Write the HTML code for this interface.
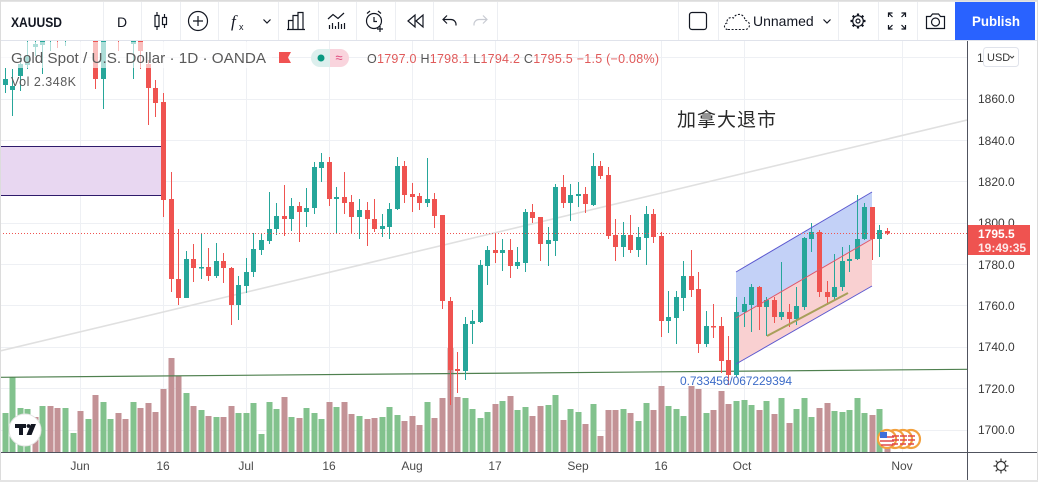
<!DOCTYPE html>
<html><head><meta charset="utf-8"><style>
html,body{margin:0;padding:0;background:#fff;width:1038px;height:482px;overflow:hidden}
svg{display:block}
</style></head><body>
<svg width="1038" height="482" viewBox="0 0 1038 482" xmlns="http://www.w3.org/2000/svg" font-family="'Liberation Sans', sans-serif">
<defs><clipPath id="ca"><rect x="0" y="41" width="967" height="411"/></clipPath></defs>
<rect width="1038" height="482" fill="#fff"/>
<g clip-path="url(#ca)">
<g stroke="#eef0f4" stroke-width="1">
<path d="M0 57.5H967M0 99.5H967M0 140.5H967M0 181.5H967M0 223.5H967M0 264.5H967M0 305.5H967M0 347.5H967M0 388.5H967M0 430.5H967"/>
<path d="M80.5 41V452M163.5 41V452M246.5 41V452M329.5 41V452M412.5 41V452M495.5 41V452M578.5 41V452M661.5 41V452M744.5 41V452M902.5 41V452"/>
</g>
<rect x="0" y="146" width="161" height="50" fill="#e8d7f1"/>
<path d="M0 146.5H161M0 195.5H161" stroke="#2e1b6b" stroke-width="1"/>
<polygon points="736,272 872,192 872,239 736,318" fill="#c3d1f7"/>
<polygon points="736,318 872,239 872,286 736,364" fill="#f9d0d1"/>
<g fill="#82c28d">
<rect x="2.5" y="413" width="6" height="39"/><rect x="9.5" y="377" width="6" height="75"/><rect x="17.5" y="408" width="6" height="44"/><rect x="24.5" y="409" width="6" height="43"/><rect x="39.5" y="406" width="6" height="46"/><rect x="62.5" y="408" width="6" height="44"/><rect x="70.5" y="433" width="6" height="19"/><rect x="85.5" y="419" width="6" height="33"/><rect x="100.5" y="402" width="6" height="50"/><rect x="107.5" y="419" width="6" height="33"/><rect x="130.5" y="402" width="6" height="50"/><rect x="183.5" y="393" width="6" height="59"/><rect x="198.5" y="410" width="6" height="42"/><rect x="213.5" y="417" width="6" height="35"/><rect x="235.5" y="413" width="6" height="39"/><rect x="243.5" y="413" width="6" height="39"/><rect x="250.5" y="403" width="6" height="49"/><rect x="258.5" y="434" width="6" height="18"/><rect x="266.5" y="402" width="6" height="50"/><rect x="273.5" y="409" width="6" height="43"/><rect x="288.5" y="417" width="6" height="35"/><rect x="303.5" y="408" width="6" height="44"/><rect x="311.5" y="413" width="6" height="39"/><rect x="318.5" y="419" width="6" height="33"/><rect x="333.5" y="407" width="6" height="45"/><rect x="356.5" y="416" width="6" height="36"/><rect x="379.5" y="417" width="6" height="35"/><rect x="386.5" y="407" width="6" height="45"/><rect x="394.5" y="415" width="6" height="37"/><rect x="424.5" y="402" width="6" height="50"/><rect x="462.5" y="398" width="6" height="54"/><rect x="469.5" y="409" width="6" height="43"/><rect x="477.5" y="418" width="6" height="34"/><rect x="484.5" y="412" width="6" height="40"/><rect x="499.5" y="401" width="6" height="51"/><rect x="514.5" y="410" width="6" height="42"/><rect x="522.5" y="407" width="6" height="45"/><rect x="545.5" y="405" width="6" height="47"/><rect x="552.5" y="395" width="6" height="57"/><rect x="567.5" y="409" width="6" height="43"/><rect x="575.5" y="412" width="6" height="40"/><rect x="590.5" y="404" width="6" height="48"/><rect x="620.5" y="409" width="6" height="43"/><rect x="635.5" y="421" width="6" height="31"/><rect x="643.5" y="403" width="6" height="49"/><rect x="665.5" y="406" width="6" height="46"/><rect x="673.5" y="409" width="6" height="43"/><rect x="680.5" y="416" width="6" height="36"/><rect x="703.5" y="413" width="6" height="39"/><rect x="733.5" y="401" width="6" height="51"/><rect x="741.5" y="400" width="6" height="52"/><rect x="748.5" y="405" width="6" height="47"/><rect x="763.5" y="401" width="6" height="51"/><rect x="778.5" y="398" width="6" height="54"/><rect x="793.5" y="409" width="6" height="43"/><rect x="801.5" y="398" width="6" height="54"/><rect x="808.5" y="417" width="6" height="35"/><rect x="831.5" y="411" width="6" height="41"/><rect x="839.5" y="412" width="6" height="40"/><rect x="846.5" y="410" width="6" height="42"/><rect x="854.5" y="398" width="6" height="54"/><rect x="861.5" y="413" width="6" height="39"/><rect x="876.5" y="409" width="6" height="43"/>
</g>
<g fill="#c39296">
<rect x="32.5" y="417" width="6" height="35"/><rect x="47.5" y="406" width="6" height="46"/><rect x="54.5" y="408" width="6" height="44"/><rect x="77.5" y="411" width="6" height="41"/><rect x="92.5" y="395" width="6" height="57"/><rect x="115.5" y="413" width="6" height="39"/><rect x="122.5" y="419" width="6" height="33"/><rect x="137.5" y="408" width="6" height="44"/><rect x="145.5" y="403" width="6" height="49"/><rect x="152.5" y="412" width="6" height="40"/><rect x="160.5" y="389" width="6" height="63"/><rect x="168.5" y="358" width="6" height="94"/><rect x="175.5" y="376" width="6" height="76"/><rect x="190.5" y="406" width="6" height="46"/><rect x="205.5" y="416" width="6" height="36"/><rect x="220.5" y="417" width="6" height="35"/><rect x="228.5" y="406" width="6" height="46"/><rect x="281.5" y="397" width="6" height="55"/><rect x="296.5" y="418" width="6" height="34"/><rect x="326.5" y="402" width="6" height="50"/><rect x="341.5" y="402" width="6" height="50"/><rect x="348.5" y="414" width="6" height="38"/><rect x="364.5" y="419" width="6" height="33"/><rect x="371.5" y="418" width="6" height="34"/><rect x="401.5" y="421" width="6" height="31"/><rect x="409.5" y="416" width="6" height="36"/><rect x="416.5" y="425" width="6" height="27"/><rect x="431.5" y="418" width="6" height="34"/><rect x="439.5" y="398" width="6" height="54"/><rect x="447.5" y="348" width="6" height="104"/><rect x="454.5" y="397" width="6" height="55"/><rect x="492.5" y="404" width="6" height="48"/><rect x="507.5" y="396" width="6" height="56"/><rect x="529.5" y="416" width="6" height="36"/><rect x="537.5" y="406" width="6" height="46"/><rect x="560.5" y="420" width="6" height="32"/><rect x="582.5" y="424" width="6" height="28"/><rect x="597.5" y="436" width="6" height="16"/><rect x="605.5" y="410" width="6" height="42"/><rect x="612.5" y="410" width="6" height="42"/><rect x="627.5" y="413" width="6" height="39"/><rect x="650.5" y="410" width="6" height="42"/><rect x="658.5" y="386" width="6" height="66"/><rect x="688.5" y="386" width="6" height="66"/><rect x="695.5" y="389" width="6" height="63"/><rect x="710.5" y="410" width="6" height="42"/><rect x="718.5" y="391" width="6" height="61"/><rect x="725.5" y="404" width="6" height="48"/><rect x="756.5" y="410" width="6" height="42"/><rect x="771.5" y="414" width="6" height="38"/><rect x="786.5" y="423" width="6" height="29"/><rect x="816.5" y="408" width="6" height="44"/><rect x="824.5" y="403" width="6" height="49"/><rect x="869.5" y="415" width="6" height="37"/><rect x="884.5" y="430" width="6" height="22"/>
</g>
<line x1="0" y1="351" x2="967" y2="120" stroke="#e0e0e0" stroke-width="1.6"/>
<line x1="0" y1="377.3" x2="967" y2="369.3" stroke="#4f804f" stroke-width="1.2"/>
<g fill="#26a69a">
<rect x="5" y="68" width="1" height="25"/><rect x="3" y="79" width="5" height="6"/>
<rect x="12" y="69" width="1" height="47"/><rect x="10" y="86" width="5" height="4"/>
<rect x="20" y="56" width="1" height="35"/><rect x="18" y="64" width="5" height="12"/>
<rect x="27" y="41" width="1" height="28"/><rect x="25" y="56" width="5" height="9"/>
<rect x="35" y="41" width="1" height="15"/><rect x="33" y="44" width="5" height="3"/>
<rect x="42" y="36" width="1" height="38"/><rect x="40" y="36" width="5" height="9"/>
<rect x="50" y="36" width="1" height="15"/><rect x="65" y="36" width="1" height="10"/>
<rect x="103" y="36" width="1" height="73"/><rect x="101" y="36" width="5" height="43"/>
<rect x="133" y="36" width="1" height="43"/><rect x="131" y="36" width="5" height="8"/>
<rect x="186" y="251" width="1" height="47"/><rect x="184" y="259" width="5" height="39"/>
<rect x="201" y="233" width="1" height="46"/><rect x="199" y="267" width="5" height="1.5"/>
<rect x="216" y="243" width="1" height="35"/><rect x="214" y="261" width="5" height="15"/>
<rect x="238" y="276" width="1" height="44"/><rect x="236" y="285" width="5" height="20"/>
<rect x="246" y="258" width="1" height="35"/><rect x="244" y="272" width="5" height="14"/>
<rect x="253" y="233" width="1" height="44"/><rect x="251" y="249" width="5" height="23"/>
<rect x="261" y="233" width="1" height="22"/><rect x="259" y="240" width="5" height="10"/>
<rect x="269" y="192" width="1" height="52"/><rect x="267" y="229" width="5" height="12"/>
<rect x="276" y="203" width="1" height="32"/><rect x="274" y="216" width="5" height="13"/>
<rect x="291" y="198" width="1" height="33"/><rect x="289" y="206" width="5" height="13"/>
<rect x="306" y="188" width="1" height="39"/><rect x="304" y="208" width="5" height="4"/>
<rect x="314" y="162" width="1" height="52"/><rect x="312" y="167" width="5" height="41"/>
<rect x="321" y="153" width="1" height="29"/><rect x="319" y="162" width="5" height="6"/>
<rect x="336" y="187" width="1" height="47"/><rect x="334" y="197" width="5" height="2"/>
<rect x="359" y="199" width="1" height="40"/><rect x="357" y="210" width="5" height="7"/>
<rect x="382" y="214" width="1" height="23"/><rect x="380" y="226" width="5" height="3"/>
<rect x="389" y="203" width="1" height="36"/><rect x="387" y="209" width="5" height="18"/>
<rect x="397" y="157" width="1" height="53"/><rect x="395" y="166" width="5" height="43"/>
<rect x="427" y="158" width="1" height="49"/><rect x="425" y="199" width="5" height="4"/>
<rect x="465" y="317" width="1" height="63"/><rect x="463" y="324" width="5" height="47"/>
<rect x="472" y="310" width="1" height="34"/><rect x="470" y="321" width="5" height="3"/>
<rect x="480" y="260" width="1" height="63"/><rect x="478" y="265" width="5" height="57"/>
<rect x="487" y="246" width="1" height="39"/><rect x="485" y="250" width="5" height="16"/>
<rect x="502" y="239" width="1" height="32"/><rect x="500" y="250" width="5" height="3"/>
<rect x="517" y="247" width="1" height="22"/><rect x="515" y="262" width="5" height="4"/>
<rect x="525" y="209" width="1" height="63"/><rect x="523" y="212" width="5" height="51"/>
<rect x="548" y="227" width="1" height="39"/><rect x="546" y="240" width="5" height="4"/>
<rect x="555" y="184" width="1" height="72"/><rect x="553" y="187" width="5" height="54"/>
<rect x="570" y="184" width="1" height="37"/><rect x="568" y="195" width="5" height="8"/>
<rect x="578" y="182" width="1" height="25"/><rect x="576" y="194" width="5" height="2"/>
<rect x="593" y="153" width="1" height="53"/><rect x="591" y="166" width="5" height="39"/>
<rect x="623" y="222" width="1" height="35"/><rect x="621" y="235" width="5" height="12"/>
<rect x="638" y="227" width="1" height="30"/><rect x="636" y="237" width="5" height="13"/>
<rect x="646" y="206" width="1" height="59"/><rect x="644" y="214" width="5" height="24"/>
<rect x="668" y="291" width="1" height="42"/><rect x="666" y="317" width="5" height="4"/>
<rect x="676" y="291" width="1" height="53"/><rect x="674" y="297" width="5" height="21"/>
<rect x="683" y="261" width="1" height="50"/><rect x="681" y="276" width="5" height="22"/>
<rect x="706" y="311" width="1" height="36"/><rect x="704" y="326" width="5" height="18"/>
<rect x="736" y="297" width="1" height="80"/><rect x="734" y="312" width="5" height="63"/>
<rect x="744" y="297" width="1" height="30"/><rect x="742" y="304" width="5" height="8"/>
<rect x="751" y="284" width="1" height="48"/><rect x="749" y="287" width="5" height="18"/>
<rect x="766" y="297" width="1" height="39"/><rect x="764" y="300" width="5" height="7"/>
<rect x="781" y="262" width="1" height="58"/><rect x="779" y="312" width="5" height="5"/>
<rect x="796" y="287" width="1" height="38"/><rect x="794" y="306" width="5" height="13"/>
<rect x="804" y="237" width="1" height="73"/><rect x="802" y="238" width="5" height="69"/>
<rect x="811" y="223" width="1" height="29"/><rect x="809" y="232" width="5" height="7"/>
<rect x="834" y="254" width="1" height="46"/><rect x="832" y="287" width="5" height="10"/>
<rect x="842" y="247" width="1" height="44"/><rect x="840" y="261" width="5" height="26"/>
<rect x="849" y="245" width="1" height="27"/><rect x="847" y="259" width="5" height="2"/>
<rect x="857" y="195" width="1" height="65"/><rect x="855" y="239" width="5" height="20"/>
<rect x="864" y="203" width="1" height="37"/><rect x="862" y="207" width="5" height="32"/>
<rect x="879" y="225" width="1" height="32"/><rect x="877" y="230" width="5" height="9"/>
</g>
<g fill="#ef5350">
<rect x="57" y="36" width="1" height="12"/><rect x="118" y="36" width="1" height="15"/>
<rect x="95" y="36" width="1" height="53"/><rect x="93" y="36" width="5" height="43"/>
<rect x="140" y="36" width="1" height="33"/><rect x="138" y="36" width="5" height="15"/>
<rect x="148" y="60" width="1" height="65"/><rect x="146" y="64" width="5" height="24"/>
<rect x="155" y="80" width="1" height="37"/><rect x="153" y="88" width="5" height="15"/>
<rect x="163" y="93" width="1" height="124"/><rect x="161" y="102" width="5" height="98"/>
<rect x="171" y="172" width="1" height="120"/><rect x="169" y="199" width="5" height="80"/>
<rect x="178" y="229" width="1" height="76"/><rect x="176" y="279" width="5" height="19"/>
<rect x="193" y="244" width="1" height="38"/><rect x="191" y="259" width="5" height="9"/>
<rect x="208" y="248" width="1" height="33"/><rect x="206" y="267" width="5" height="9"/>
<rect x="223" y="253" width="1" height="30"/><rect x="221" y="261" width="5" height="7"/>
<rect x="231" y="267" width="1" height="58"/><rect x="229" y="268" width="5" height="37"/>
<rect x="284" y="185" width="1" height="51"/><rect x="282" y="216" width="5" height="3"/>
<rect x="299" y="202" width="1" height="40"/><rect x="297" y="206" width="5" height="6"/>
<rect x="329" y="157" width="1" height="49"/><rect x="327" y="162" width="5" height="37"/>
<rect x="344" y="172" width="1" height="42"/><rect x="342" y="197" width="5" height="6"/>
<rect x="351" y="195" width="1" height="39"/><rect x="349" y="202" width="5" height="15"/>
<rect x="367" y="202" width="1" height="44"/><rect x="365" y="210" width="5" height="9"/>
<rect x="374" y="199" width="1" height="33"/><rect x="372" y="219" width="5" height="10"/>
<rect x="404" y="161" width="1" height="42"/><rect x="402" y="166" width="5" height="29"/>
<rect x="412" y="183" width="1" height="29"/><rect x="410" y="194" width="5" height="3"/>
<rect x="419" y="193" width="1" height="17"/><rect x="417" y="196" width="5" height="7"/>
<rect x="434" y="193" width="1" height="35"/><rect x="432" y="199" width="5" height="17"/>
<rect x="442" y="215" width="1" height="94"/><rect x="440" y="215" width="5" height="86"/>
<rect x="450" y="297" width="1" height="108"/><rect x="448" y="301" width="5" height="69"/>
<rect x="457" y="352" width="1" height="41"/><rect x="455" y="369" width="5" height="2"/>
<rect x="495" y="233" width="1" height="30"/><rect x="493" y="250" width="5" height="3"/>
<rect x="510" y="239" width="1" height="39"/><rect x="508" y="250" width="5" height="16"/>
<rect x="532" y="204" width="1" height="19"/><rect x="530" y="212" width="5" height="6"/>
<rect x="540" y="217" width="1" height="44"/><rect x="538" y="217" width="5" height="27"/>
<rect x="563" y="175" width="1" height="33"/><rect x="561" y="187" width="5" height="16"/>
<rect x="585" y="187" width="1" height="26"/><rect x="583" y="194" width="5" height="10"/>
<rect x="600" y="161" width="1" height="18"/><rect x="598" y="166" width="5" height="10"/>
<rect x="608" y="167" width="1" height="72"/><rect x="606" y="175" width="5" height="61"/>
<rect x="615" y="219" width="1" height="42"/><rect x="613" y="235" width="5" height="12"/>
<rect x="630" y="215" width="1" height="38"/><rect x="628" y="235" width="5" height="15"/>
<rect x="653" y="209" width="1" height="34"/><rect x="651" y="214" width="5" height="23"/>
<rect x="661" y="232" width="1" height="105"/><rect x="659" y="236" width="5" height="85"/>
<rect x="691" y="250" width="1" height="47"/><rect x="689" y="276" width="5" height="14"/>
<rect x="698" y="272" width="1" height="81"/><rect x="696" y="289" width="5" height="55"/>
<rect x="713" y="304" width="1" height="34"/><rect x="711" y="326" width="5" height="1.5"/>
<rect x="721" y="317" width="1" height="56"/><rect x="719" y="326" width="5" height="35"/>
<rect x="728" y="336" width="1" height="49"/><rect x="726" y="360" width="5" height="15"/>
<rect x="759" y="286" width="1" height="44"/><rect x="757" y="287" width="5" height="20"/>
<rect x="774" y="297" width="1" height="26"/><rect x="772" y="300" width="5" height="17"/>
<rect x="789" y="304" width="1" height="23"/><rect x="787" y="312" width="5" height="7"/>
<rect x="819" y="230" width="1" height="67"/><rect x="817" y="232" width="5" height="60"/>
<rect x="827" y="281" width="1" height="24"/><rect x="825" y="292" width="5" height="5"/>
<rect x="872" y="207" width="1" height="53"/><rect x="870" y="207" width="5" height="32"/>
<rect x="887" y="228" width="1" height="7"/><rect x="885" y="231" width="5" height="2.5"/>
</g>
<line x1="736" y1="272" x2="872" y2="192" stroke="#5b58cf" stroke-width="1"/>
<line x1="736" y1="364" x2="872" y2="286" stroke="#5b58cf" stroke-width="1"/>
<line x1="736" y1="318" x2="872" y2="239" stroke="#e0566a" stroke-width="1"/>
<line x1="767" y1="336" x2="848" y2="293" stroke="#a89f5a" stroke-width="2"/>
<line x1="0" y1="233.5" x2="967" y2="233.5" stroke="#ef5350" stroke-width="1" stroke-dasharray="1 2"/>
<rect x="0" y="42" width="272" height="26" fill="#fff" opacity="0.62"/>
</g>
<text x="11" y="63" font-size="15" fill="#5a5a5a" textLength="255" lengthAdjust="spacingAndGlyphs">Gold Spot / U.S. Dollar · 1D · OANDA</text>
<path d="M279 52h12l-3 5.5l3 5.5h-12z" fill="#f05252"/>
<path d="M320 49h10v18h-10a9 9 0 0 1 0-18z" fill="#dcefed"/>
<path d="M330 49h10a9 9 0 0 1 0 18h-10z" fill="#f9d4dd"/>
<circle cx="321" cy="58" r="3.5" fill="#089981"/>
<text x="339" y="62" font-size="13" fill="#e0457b" text-anchor="middle">≈</text>
<text x="367" y="63" font-size="12.5" textLength="292" lengthAdjust="spacing" fill="#e05a5a"><tspan fill="#555">O</tspan>1797.0 <tspan fill="#555">H</tspan>1798.1 <tspan fill="#555">L</tspan>1794.2 <tspan fill="#555">C</tspan>1795.5 −1.5 (−0.08%)</text>
<text x="11" y="86" font-size="12.5" fill="#5a5a5a" textLength="65" lengthAdjust="spacing">Vol  2.348K</text>
<text x="677" y="126" font-size="19" fill="#2a2a2a" font-family="'Liberation Sans','Noto Sans CJK SC',sans-serif" textLength="99" lengthAdjust="spacing">加拿大退市</text>
<text x="680" y="385" font-size="12" fill="#3d6cc8" textLength="112" lengthAdjust="spacing">0.733456/067229394</text>
<circle cx="25" cy="430" r="16" fill="#fff" stroke="#e4e4e4" stroke-width="1"/>
<path d="M15 424h11v4h-3v7h-4v-7h-4z" fill="#131722"/>
<circle cx="28.5" cy="426" r="1.9" fill="#131722"/>
<path d="M31 424h5l-4.5 11h-5z" fill="#131722"/>
<g stroke="#f2a13e" stroke-width="2.2">
<circle cx="911" cy="439" r="9" fill="#fff"/>
<circle cx="903" cy="439" r="9" fill="#fff"/>
<circle cx="895" cy="439" r="9" fill="#fff"/>
<circle cx="887" cy="439" r="9" fill="#fff"/>
</g>
<g stroke="#e04848" stroke-width="1.6">
<path d="M908 436h7M908 440h7M908 444h6"/>
<path d="M900 436h7M900 440h7M900 444h6"/>
<path d="M892 436h7M892 440h7M892 444h6"/>
<path d="M880 437h14M880 441h14M881 445h12"/>
</g>
<rect x="880" y="432" width="7" height="6" fill="#3f6fd8"/>
<line x1="967.5" y1="41" x2="967.5" y2="482" stroke="#50535e" stroke-width="1"/>
<line x1="0" y1="452.5" x2="1038" y2="452.5" stroke="#50535e" stroke-width="1"/>
<g font-size="12" fill="#3a3a3a">
<text x="977" y="62">1880.0</text>
<text x="978" y="103">1860.0</text>
<text x="978" y="145">1840.0</text>
<text x="978" y="186">1820.0</text>
<text x="978" y="227">1800.0</text>
<text x="978" y="269">1780.0</text>
<text x="978" y="310">1760.0</text>
<text x="978" y="351">1740.0</text>
<text x="978" y="393">1720.0</text>
<text x="978" y="434">1700.0</text>
</g>
<rect x="983.5" y="47.5" width="35" height="19" rx="3" fill="#fff" stroke="#e0e3eb"/>
<text x="987" y="61" font-size="11" fill="#333">USD</text>
<path d="M1010 56l2 2l2-2" stroke="#444" fill="none" stroke-width="1"/>
<rect x="968" y="225" width="62" height="30" fill="#ef5350"/>
<text x="978" y="238" font-size="12" font-weight="bold" fill="#fff">1795.5</text>
<text x="978" y="252" font-size="12" font-weight="bold" fill="#fde8e8">19:49:35</text>
<g font-size="12" fill="#4a4a4a" text-anchor="middle">
<text x="80" y="470">Jun</text><text x="163" y="470">16</text><text x="246" y="470">Jul</text><text x="329" y="470">16</text><text x="412" y="470">Aug</text><text x="495" y="470">17</text><text x="578" y="470">Sep</text><text x="661" y="470">16</text><text x="742" y="470">Oct</text><text x="902" y="470">Nov</text>
</g>
<g stroke="#333" stroke-width="1.2" fill="none">
<circle cx="1001" cy="466" r="4.5"/>
<path d="M1001 458.5v2.5M1001 471v2.5M993.5 466h2.5M1006 466h2.5M995.7 460.7l1.8 1.8M1004.5 469.5l1.8 1.8M995.7 471.3l1.8-1.8M1004.5 462.5l1.8-1.8"/>
</g>
<rect x="0" y="0" width="1038" height="40" fill="#fff"/>
<rect x="0" y="0" width="1038" height="2" fill="#e4e4e4"/>
<line x1="0" y1="40.5" x2="1038" y2="40.5" stroke="#e0e3eb"/>
<g stroke="#eceef2" stroke-width="1">
<path d="M103.5 2V40M141.5 2V40M180.5 2V40M218.5 2V40M278.5 2V40M318.5 2V40M356.5 2V40M395.5 2V40M433.5 2V40M497.5 2V40M678.5 2V40M718.5 2V40M838.5 2V40M878.5 2V40M917.5 2V40"/>
</g>
<text x="11" y="27" font-size="14" font-weight="bold" fill="#131722" textLength="51" lengthAdjust="spacingAndGlyphs">XAUUSD</text>
<text x="117" y="27" font-size="14" fill="#131722">D</text>
<g stroke="#131722" stroke-width="1.2" fill="none">
<path d="M157 12v18M164.5 14v14"/>
<rect x="155" y="15.5" width="4" height="11" fill="#fff"/>
<rect x="162.5" y="17.5" width="4" height="7" fill="#fff"/>
<circle cx="198" cy="21" r="9.5"/>
<path d="M198 16v10M193 21h10"/>
<path d="M263.5 19.5l3.5 3.5l3.5-3.5"/>
<path d="M288.5 29V20.5h4.5V29M293 29V15.5h5V29M298 29V12.5h5V29M287 29.5h18"/>
<path d="M328 19l5-4.5l5 4l6-5.5"/>
<path d="M329.5 29v-4M332.5 29v-6M335.5 29v-3M338.5 29v-7M341.5 29v-5M344.5 29v-6"/>
<circle cx="374" cy="21" r="7.5"/>
<path d="M374 17v4.5h3M367 13.5l3-2.5M381 13.5l-3-2.5M380 26v6M377 29h6"/>
<path d="M408 21l7-6v12zM416 21l7-6v12z"/>
<path d="M447 15.5l-4 4l4 4M443 19.5h8a5 5 0 0 1 5 5v1"/>
<rect x="689.5" y="12.5" width="17" height="17" rx="2.5"/>
<circle cx="858" cy="21" r="5.3"/>
<circle cx="858" cy="21" r="2"/>
<path d="M888.5 17v-4h4M888.5 13l4 4M905.5 17v-4h-4M905.5 13l-4 4M888.5 25v4h4M888.5 29l4-4M905.5 25v4h-4M905.5 29l-4-4"/>
<path d="M926.5 16.5h4l2-2.5h6l2 2.5h4v12h-18z"/>
<circle cx="935.5" cy="22" r="4"/>
<path d="M823.5 19.5l3.5 3.5l3.5-3.5"/>
</g>
<g stroke="#131722" stroke-width="2.2"><path d="M858 13.5v2M858 26.5v2M850.5 21h2M863.5 21h2M852.7 15.7l1.4 1.4M861.9 24.9l1.4 1.4M852.7 26.3l1.4-1.4M861.9 17.1l1.4-1.4"/></g>
<text x="231" y="27" font-size="17" font-style="italic" fill="#131722" font-family="'Liberation Serif',serif">f</text>
<text x="239" y="30" font-size="9" fill="#131722">x</text>
<path d="M483 15.5l4 4l-4 4M487 19.5h-8a5 5 0 0 0-5 5v1" stroke="#c8cbd2" stroke-width="1.2" fill="none"/>
<path d="M728 29.5h17a4.5 4.5 0 0 0 0-9a6 6 0 0 0-11.5-2.5a4.5 4.5 0 0 0-6.5 5a3.3 3.3 0 0 0 1 6.5z" stroke="#131722" stroke-width="1.1" fill="none" stroke-dasharray="2 1.6"/>
<text x="753" y="26" font-size="14" fill="#131722">Unnamed</text>
<rect x="955" y="2" width="80" height="38" fill="#2962ff"/>
<text x="972" y="26" font-size="14" font-weight="bold" fill="#fff" textLength="48" lengthAdjust="spacingAndGlyphs">Publish</text>
<rect x="0.5" y="0.5" width="1037" height="481" fill="none" stroke="#dcdcdc" stroke-width="1"/>
<line x1="0" y1="481" x2="1038" y2="481" stroke="#e4e4e4" stroke-width="2"/>
</svg>
</body></html>
